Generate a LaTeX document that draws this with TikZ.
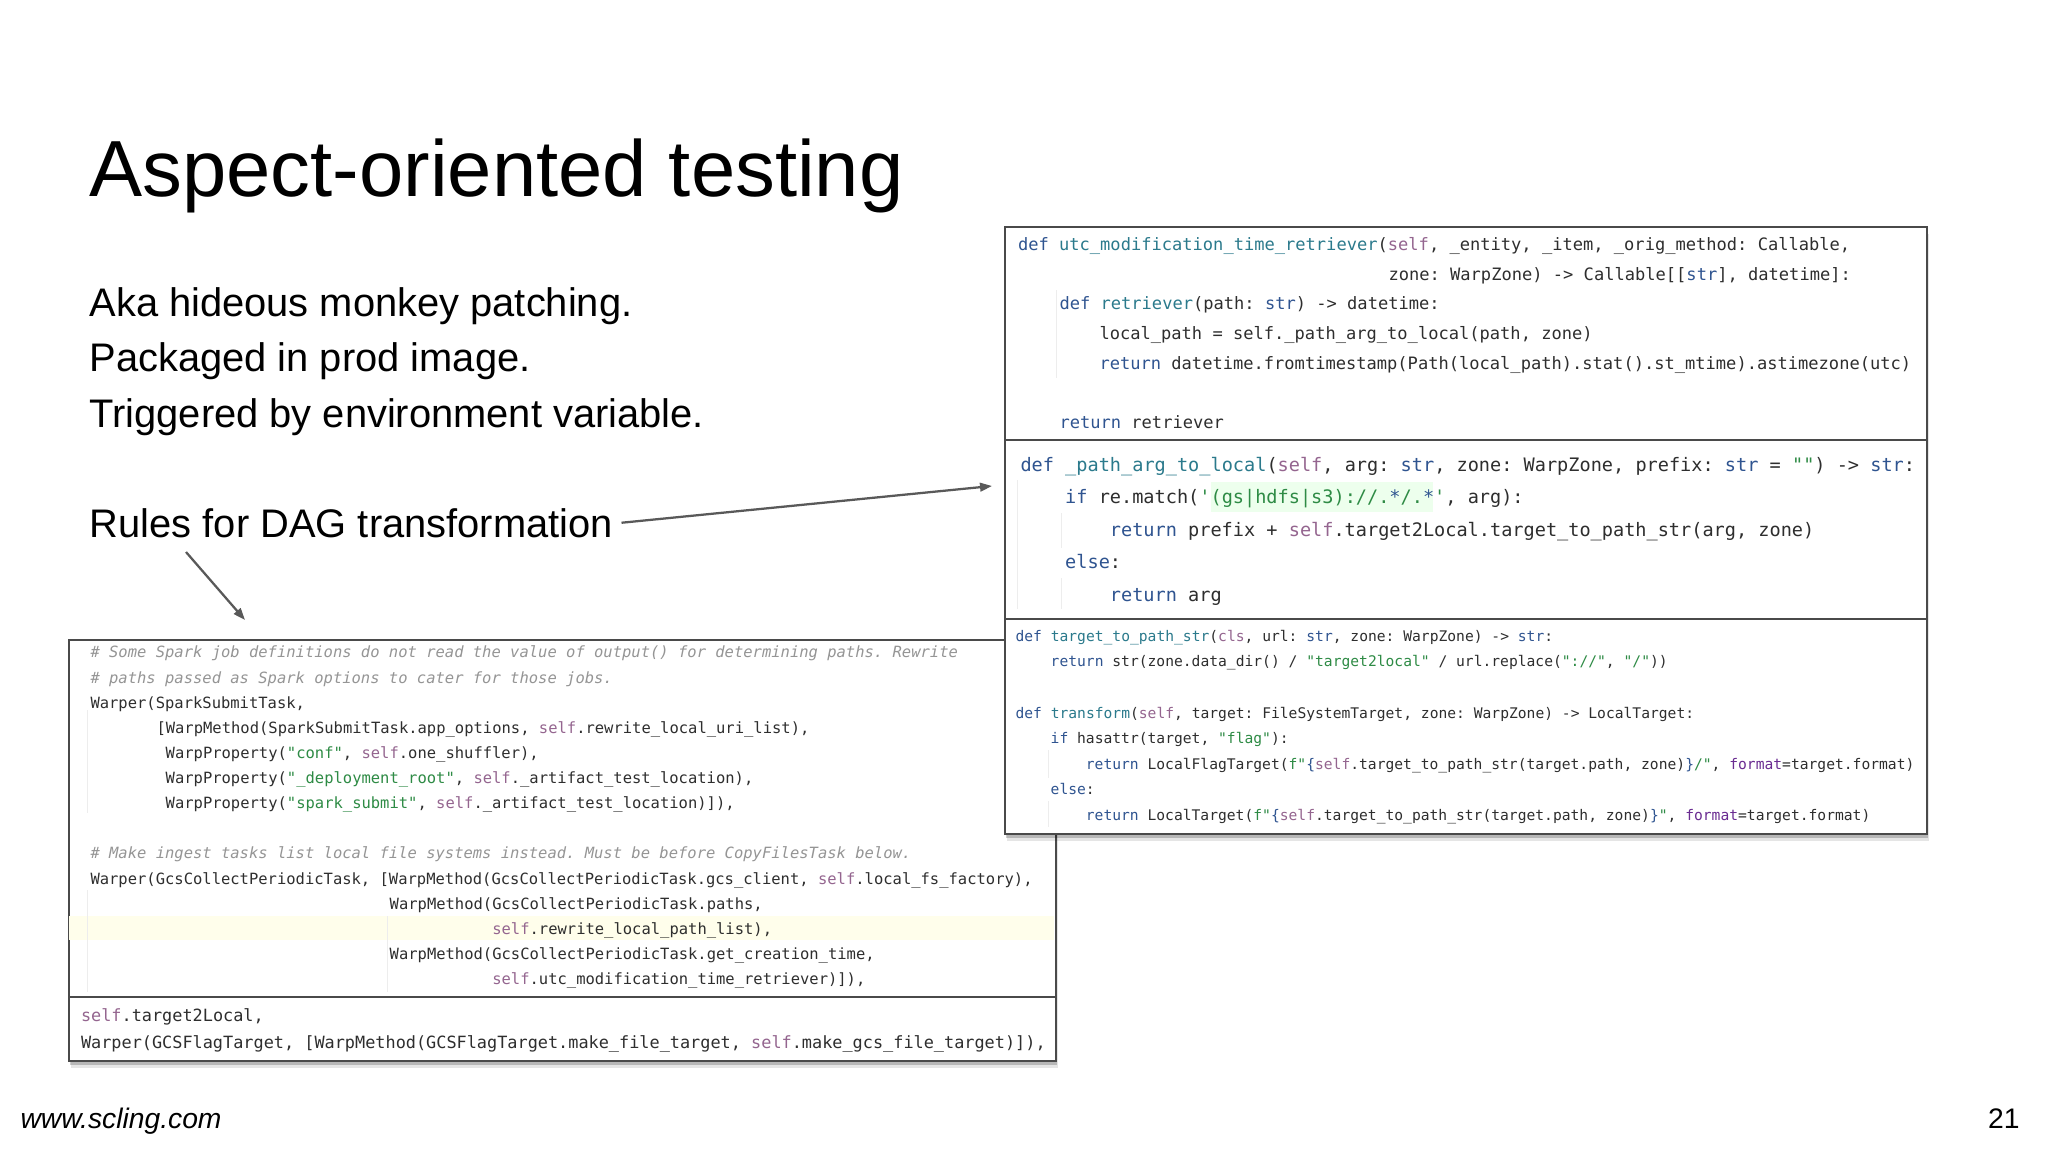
\documentclass[tikz,border=0pt]{standalone}
\usepackage{fontspec}
\usetikzlibrary{arrows.meta,shadows}
\setmainfont{Liberation Sans}
\newfontfamily\codefont{DejaVu Sans Mono}

\definecolor{kwBlue}{HTML}{2F5490}
\definecolor{fnTeal}{HTML}{2B7A8C}
\definecolor{selfPurple}{HTML}{94658F}
\definecolor{strGreen}{HTML}{2E8B45}
\definecolor{namedPurple}{HTML}{6A2C91}
\definecolor{commentGrey}{HTML}{959595}
\definecolor{codeInk}{HTML}{2E2E2E}
\definecolor{panelEdge}{HTML}{4A4A4A}
\definecolor{pointerGrey}{HTML}{595959}
\definecolor{guideGrey}{HTML}{EDEDED}

\newcommand{\kwd}[1]{\textcolor{kwBlue}{#1}}
\newcommand{\fnc}[1]{\textcolor{fnTeal}{#1}}
\newcommand{\slf}{\textcolor{selfPurple}{self}}
\newcommand{\strg}[1]{\textcolor{strGreen}{#1}}
\newcommand{\prm}[1]{\textcolor{namedPurple}{#1}}
\newcommand{\cmnt}[1]{\textcolor{commentGrey}{\itshape #1}}

\tikzset{
	every picture/.style={line width=0.75pt},
	panel/.style={draw=panelEdge,line width=1.5pt,fill=white,anchor=north west,inner sep=0pt},
	panelShadow/.style={drop shadow={shadow xshift=1.5pt,shadow yshift=-5pt,opacity=.1,fill=black},drop shadow={shadow xshift=1pt,shadow yshift=-3pt,opacity=.2,fill=black}},
	slideText/.style={anchor=base west,inner sep=0pt,text=black,font=\fontsize{29.9}{34}\selectfont},
	codeLine/.style={anchor=base west,inner sep=0pt,text=codeInk},
	codeRetriever/.style={codeLine,font=\codefont\fontsize{12.8}{15}\selectfont},
	codePath/.style={codeLine,font=\codefont\fontsize{13.93}{16}\selectfont},
	codeTarget/.style={codeLine,font=\codefont\fontsize{10.98}{13}\selectfont},
	codeDag/.style={codeLine,font=\codefont\fontsize{11.62}{14}\selectfont},
	codeFlag/.style={codeLine,font=\codefont\fontsize{12.65}{15}\selectfont},
	guide/.style={draw=guideGrey,line width=0.75pt},
	pointer/.style={draw=pointerGrey,line width=1.7pt,-{Triangle[length=9pt,width=6.5pt]}},
}

\begin{document}
\catcode`\_=12
\frenchspacing
\begin{tikzpicture}[x=0.75pt,y=0.75pt,yscale=-1,xscale=1]
	\useasboundingbox (0,0) rectangle (2048,1152);

	% Text Node
	\node[slideText,font=\fontsize{59.7}{66}\selectfont] (title) at (89,196) {Aspect-oriented testing};
	\node[slideText] (akaLine) at (89,316) {Aka hideous monkey patching.};
	\node[slideText] (prodLine) at (89,371) {Packaged in prod image.};
	\node[slideText] (envLine) at (89,427) {Triggered by environment variable.};
	\node[slideText,outer xsep=6.5pt] (rules) at (81.3,537) {Rules for DAG transformation};
	\node[slideText,font=\fontsize{21.2}{25}\selectfont\itshape] (site) at (20,1128) {www.scling.com};
	\node[slideText,anchor=base east,font=\fontsize{21.2}{25}\selectfont] (pageNum) at (2020,1128) {21};

	% Left panels
	\node[panel,panelShadow,minimum width=740.25pt,minimum height=315.75pt] (flagBox) at (67.5,639) {};
	\node[panel,minimum width=740.25pt,minimum height=267.75pt] (dagBox) at (67.5,639) {};
	\fill[yellow!8!white] (69,916) rectangle (1054,940);
	\foreach \gx/\gtop/\gbot in {87/710/813,87/890/992,387/916/992}
		\draw[guide] (\gx,\gtop) -- (\gx,\gbot);

	\node[codeDag] (dag1) at (90,657.5) {\cmnt{\# Some Spark job definitions do not read the value of output() for determining paths. Rewrite}};
	\node[codeDag] (dag2) at (90,683) {\cmnt{\# paths passed as Spark options to cater for those jobs.}};
	\node[codeDag] (dag3) at (90,708) {Warper(SparkSubmitTask,};
	\node[codeDag] (dag4) at (156,733) {[WarpMethod(SparkSubmitTask.app_options, \slf.rewrite_local_uri_list),};
	\node[codeDag] (dag5) at (165.2,758) {WarpProperty(\strg{"conf"}, \slf.one_shuffler),};
	\node[codeDag] (dag6) at (165.2,783.5) {WarpProperty(\strg{"_deployment_root"}, \slf._artifact_test_location),};
	\node[codeDag] (dag7) at (165.2,808.5) {WarpProperty(\strg{"spark_submit"}, \slf._artifact_test_location)]),};
	\node[codeDag] (dag8) at (90,858.5) {\cmnt{\# Make ingest tasks list local file systems instead. Must be before CopyFilesTask below.}};
	\node[codeDag] (dag9) at (90,884) {Warper(GcsCollectPeriodicTask, [WarpMethod(GcsCollectPeriodicTask.gcs_client, \slf.local_fs_factory),};
	\node[codeDag] (dag10) at (389.2,909) {WarpMethod(GcsCollectPeriodicTask.paths,};
	\node[codeDag] (dag11) at (491.8,934.5) {\slf.rewrite_local_path_list),};
	\node[codeDag] (dag12) at (389.2,959.5) {WarpMethod(GcsCollectPeriodicTask.get_creation_time,};
	\node[codeDag] (dag13) at (491.8,984.5) {\slf.utc_modification_time_retriever)]),};

	\node[codeFlag] (flag1) at (80.5,1021) {\slf.target2Local,};
	\node[codeFlag] (flag2) at (80.5,1048) {Warper(GCSFlagTarget, [WarpMethod(GCSFlagTarget.make_file_target, \slf.make_gcs_file_target)]),};

	% Right panels
	\node[panel,panelShadow,minimum width=691.5pt,minimum height=455.25pt] (targetBox) at (1004,226) {};
	\node[panel,minimum width=691.5pt,minimum height=294pt] (pathBox) at (1004,226) {};
	\node[panel,minimum width=691.5pt,minimum height=159.75pt] (retrieverBox) at (1004,226) {};
	\fill[green!7!white] (1211,482) rectangle (1433,512);
	\foreach \gx/\gtop/\gbot in {1056/290/378,1017/480/609,1061/513/548,1061/578/609,1048/750/778,1048/801/827}
		\draw[guide] (\gx,\gtop) -- (\gx,\gbot);

	\node[codeRetriever] (ret1) at (1017.5,250) {\kwd{def} \fnc{utc_modification_time_retriever}(\slf, _entity, _item, _orig_method: Callable,};
	\node[codeRetriever] (ret2) at (1388,280) {zone: WarpZone) -> Callable[[\kwd{str}], datetime]:};
	\node[codeRetriever] (ret3) at (1059,309.5) {\kwd{def} \fnc{retriever}(path: \kwd{str}) -> datetime:};
	\node[codeRetriever] (ret4) at (1099,339.5) {local_path = self._path_arg_to_local(path, zone)};
	\node[codeRetriever] (ret5) at (1099,369) {\kwd{return} datetime.fromtimestamp(Path(local_path).stat().st_mtime).astimezone(utc)};
	\node[codeRetriever] (ret6) at (1059,428.5) {\kwd{return} retriever};

	\node[codePath] (path1) at (1020,471) {\kwd{def} \fnc{_path_arg_to_local}(\slf, arg: \kwd{str}, zone: WarpZone, prefix: \kwd{str} = \strg{""}) -> \kwd{str}:};
	\node[codePath] (path2) at (1064.7,503) {\kwd{if} re.match(\strg{'(gs|hdfs|s3)://.}\kwd{*}\strg{/.}\kwd{*}\strg{'}, arg):};
	\node[codePath] (path3) at (1109.4,536) {\kwd{return} prefix + \slf.target2Local.target_to_path_str(arg, zone)};
	\node[codePath] (path4) at (1064.7,568) {\kwd{else}:};
	\node[codePath] (path5) at (1109.4,601) {\kwd{return} arg};

	\node[codeTarget] (tgt1) at (1015,641) {\kwd{def} \fnc{target_to_path_str}(\textcolor{selfPurple}{cls}, url: \kwd{str}, zone: WarpZone) -> \kwd{str}:};
	\node[codeTarget] (tgt2) at (1050.2,666.5) {\kwd{return} str(zone.data_dir() / \strg{"target2local"} / url.replace(\strg{"://"}, \strg{"/"}))};
	\node[codeTarget] (tgt3) at (1015,718) {\kwd{def} \fnc{transform}(\slf, target: FileSystemTarget, zone: WarpZone) -> LocalTarget:};
	\node[codeTarget] (tgt4) at (1050.2,743.5) {\kwd{if} hasattr(target, \strg{"flag"}):};
	\node[codeTarget] (tgt5) at (1085.4,769) {\kwd{return} LocalFlagTarget(\strg{f"}\kwd{\{}\slf.target_to_path_str(target.path, zone)\kwd{\}}\strg{/"}, \prm{format}=target.format)};
	\node[codeTarget] (tgt6) at (1050.2,794.5) {\kwd{else}:};
	\node[codeTarget] (tgt7) at (1085.4,820) {\kwd{return} LocalTarget(\strg{f"}\kwd{\{}\slf.target_to_path_str(target.path, zone)\kwd{\}}\strg{"}, \prm{format}=target.format)};

	% Pointers
	\coordinate (pathTip) at (992,486);
	\coordinate (dagStart) at (186,552);
	\coordinate (dagTip) at (245,620);
	\draw[pointer] (rules.east) -- (pathTip);
	\draw[pointer] (dagStart) -- (dagTip);
\end{tikzpicture}
\end{document}
